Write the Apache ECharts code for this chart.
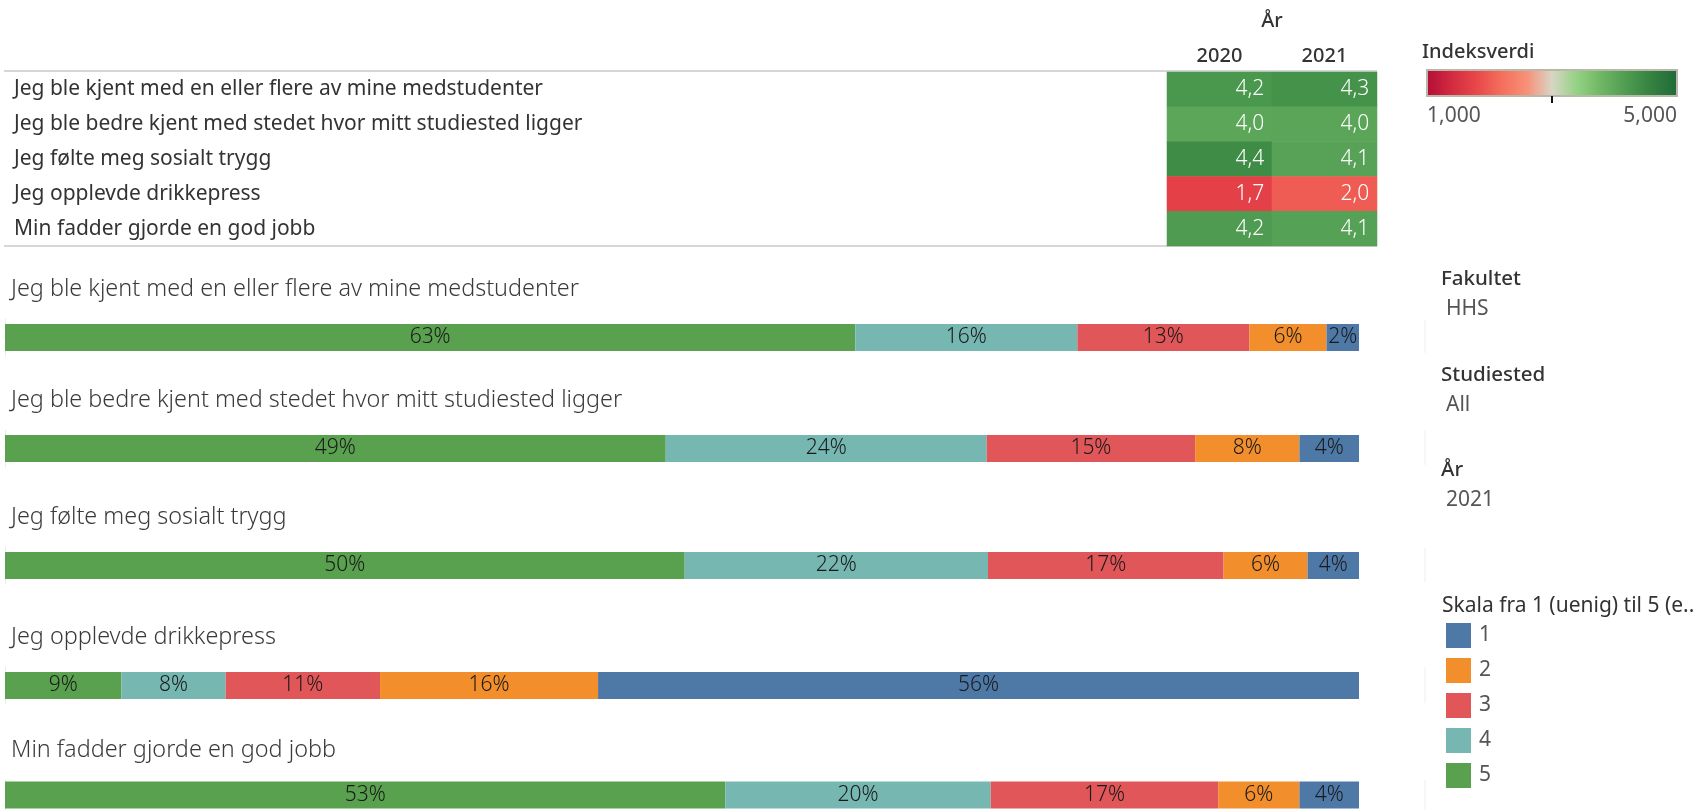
<!DOCTYPE html>
<html>
<head>
<meta charset="utf-8">
<script src="https://cdn.jsdelivr.net/npm/echarts@6/dist/echarts.min.js"></script>
<style>
html, body { margin: 0; padding: 0; background: #fff; }
#main { width: 1702px; height: 810px; }
</style>
</head>
<body>
<div id="main"></div>
<script>
var statements = [
    'Jeg ble kjent med en eller flere av mine medstudenter',
    'Jeg ble bedre kjent med stedet hvor mitt studiested ligger',
    'Jeg følte meg sosialt trygg',
    'Jeg opplevde drikkepress',
    'Min fadder gjorde en god jobb'
];
var years = ['2020', '2021'];
var index2020 = [4.24, 4.02, 4.42, 1.71, 4.18];
var index2021 = [4.32, 4.03, 4.08, 2.01, 4.10];

// share of answers per statement, scale 5 down to 1 (left to right in the bars)
var stackOrder = ['5', '4', '3', '2', '1'];
var share5 = [62.8, 48.8, 50.2, 8.6, 53.2];
var share4 = [16.4, 23.7, 22.4, 7.7, 19.6];
var share3 = [12.7, 15.4, 17.4, 11.4, 16.8];
var share2 = [5.7, 7.7, 6.2, 16.1, 6.0];
var share1 = [2.4, 4.4, 3.8, 56.2, 4.4];
var legendLabels = ['1', '2', '3', '4', '5'];
var indexMin = 1;
var indexMax = 5;
var indexTickLabels = ['1,000', '5,000'];
var filterNames = ['Fakultet', 'Studiested', 'År'];
var filterValues = ['HHS', 'All', '2021'];

var font = '"Noto Sans", sans-serif';
var levelColors = {'1': '#4e79a7', '2': '#f28e2b', '3': '#e15759', '4': '#76b7b2', '5': '#59a14f'};
var indexColors = ['#b10d37', '#d22a40', '#e8474a', '#f46f5c', '#f89078', '#d8d6c4',
                   '#93d283', '#6db563', '#4d9a50', '#33803f', '#1f6a3a'];
var barTops = [324, 435, 552, 672, 785];
var barHeight = 27;

function fmtIndex(v)
{
    return v.toFixed(1).replace('.', ',');
}

var shares = {'5': share5, '4': share4, '3': share3, '2': share2, '1': share1};

var heatData = [];
for(var i = 0; i < statements.length; i++)
{
    heatData.push([0, i, index2020[i]]);
    heatData.push([1, i, index2021[i]]);
}

var grids  = [{left: 1167, right: 325, top: 72, height: 174}];
var xAxes  = [{
    type: 'category',
    data: years,
    position: 'top',
    gridIndex: 0,
    axisLine: {show: false},
    axisTick: {show: false},
    axisLabel: {color: '#333', fontSize: 20, fontWeight: 500, fontFamily: font, margin: 6},
    name: 'År',
    nameLocation: 'middle',
    nameGap: 41,
    nameTextStyle: {color: '#333', fontSize: 20, fontWeight: 500, fontFamily: font}
}];
var yAxes  = [{
    type: 'category',
    data: statements,
    inverse: true,
    gridIndex: 0,
    axisLine: {show: false},
    axisTick: {show: false},
    axisLabel: {color: '#333', fontSize: 21, fontFamily: font, align: 'left', margin: 1153}
}];
var series = [{
    type: 'heatmap',
    xAxisIndex: 0,
    yAxisIndex: 0,
    data: heatData,
    label: {
        show: true,
        position: 'insideRight',
        distance: 8,
        color: '#fff',
        fontSize: 21,
        fontWeight: 300,
        fontFamily: font,
        formatter: function(p) { return fmtIndex(p.value[2]); }
    },
    emphasis: {disabled: true}
}];

var graphics = [
    {type: 'line', shape: {x1: 4, y1: 71, x2: 1377, y2: 71}, style: {stroke: '#d6d6d6', lineWidth: 2}, z: -1},
    {type: 'line', shape: {x1: 4, y1: 246, x2: 1377, y2: 246}, style: {stroke: '#d6d6d6', lineWidth: 2}, z: -1}
];

for(var r = 0; r < statements.length; r++)
{
    var g = r + 1;
    grids.push({left: 5, right: 343, top: barTops[r] - 5, height: barHeight + 10});
    xAxes.push({type: 'value', gridIndex: g, min: 0, max: 100, show: false});
    yAxes.push({
        type: 'category',
        gridIndex: g,
        data: [statements[r]],
        axisTick: {show: false},
        axisLabel: {show: false},
        axisLine: {show: true, lineStyle: {color: '#ebebeb', width: 1}}
    });
    for(var k = 0; k < stackOrder.length; k++)
    {
        var lv = stackOrder[k];
        series.push({
            type: 'bar',
            name: lv,
            stack: 'row' + r,
            xAxisIndex: g,
            yAxisIndex: g,
            barWidth: barHeight,
            data: [shares[lv][r]],
            itemStyle: {color: levelColors[lv]},
            label: {
                show: true,
                position: 'inside',
                color: '#1a1a1a',
                fontSize: 21,
                fontWeight: 300,
                fontFamily: font,
                formatter: function(p) { return Math.round(p.value) + '%'; }
            },
            emphasis: {disabled: true}
        });
    }
    graphics.push({
        type: 'text', x: 11, y: barTops[r] - 35,
        style: {text: statements[r], fill: '#3a3a3a', font: '300 23.4px ' + font, verticalAlign: 'middle'}
    });
}

// Indeksverdi colour legend
var stops = [];
for(var s = 0; s < indexColors.length; s++)
{
    stops.push({offset: s / (indexColors.length - 1), color: indexColors[s]});
}
var midX = 1427 + 250 * (3 - indexMin) / (indexMax - indexMin);
graphics.push(
    {type: 'text', x: 1422, y: 52, style: {text: 'Indeksverdi', fill: '#333', font: '500 20px ' + font, verticalAlign: 'middle'}},
    {type: 'rect', shape: {x: 1427, y: 70, width: 250, height: 26},
        style: {fill: new echarts.graphic.LinearGradient(0, 0, 1, 0, stops), stroke: '#bab6aa', lineWidth: 2}},
    {type: 'line', shape: {x1: midX, y1: 96, x2: midX, y2: 103}, style: {stroke: '#111', lineWidth: 2}},
    {type: 'text', x: 1427, y: 116, style: {text: indexTickLabels[0], fill: '#555', font: '21px ' + font, verticalAlign: 'middle'}},
    {type: 'text', x: 1677, y: 116, style: {text: indexTickLabels[1], fill: '#555', font: '21px ' + font, verticalAlign: 'middle', align: 'right'}}
);

// filter panel
var filterY = [279, 375, 470];
for(var f = 0; f < filterNames.length; f++)
{
    graphics.push(
        {type: 'text', x: 1441, y: filterY[f], style: {text: filterNames[f], fill: '#333', font: '500 20.5px ' + font, verticalAlign: 'middle'}},
        {type: 'text', x: 1446, y: filterY[f] + 30, style: {text: filterValues[f], fill: '#555', font: '21px ' + font, verticalAlign: 'middle'}}
    );
}
graphics.push({type: 'text', x: 1442, y: 606, style: {text: 'Skala fra 1 (uenig) til 5 (e..', fill: '#333', font: '21px ' + font, verticalAlign: 'middle'}});
var dividers = [[320, 353], [430, 465], [548, 582], [667, 703], [780, 810]];
for(var d = 0; d < dividers.length; d++)
{
    graphics.push({type: 'line', shape: {x1: 1425, y1: dividers[d][0], x2: 1425, y2: dividers[d][1]},
        style: {stroke: '#eeeeee', lineWidth: 1}});
}

var chart = echarts.init(document.getElementById('main'));
chart.setOption({
    animation: false,
    textStyle: {fontFamily: font},
    grid: grids,
    xAxis: xAxes,
    yAxis: yAxes,
    visualMap: {
        type: 'continuous',
        show: false,
        seriesIndex: 0,
        min: indexMin,
        max: indexMax,
        inRange: {color: indexColors}
    },
    legend: {
        data: legendLabels,
        orient: 'vertical',
        left: 1441,
        top: 618,
        itemWidth: 25,
        itemHeight: 25,
        itemGap: 10,
        icon: 'rect',
        selectedMode: false,
        textStyle: {color: '#555', fontSize: 21, fontFamily: font, padding: [0, 0, 0, 3]}
    },
    graphic: graphics,
    series: series
});
</script>
</body>
</html>
